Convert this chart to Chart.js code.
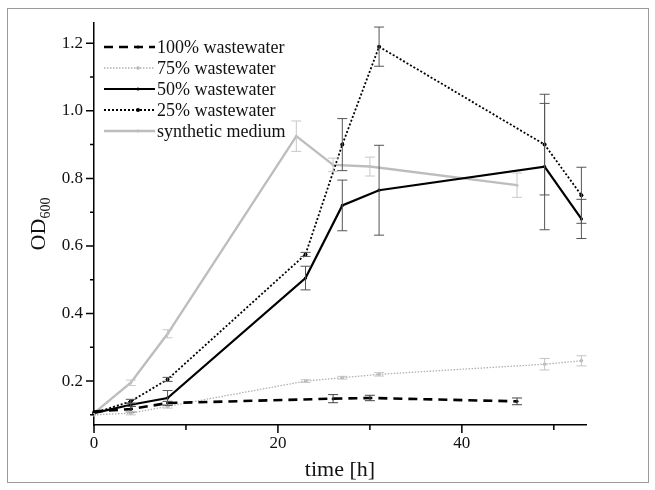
<!DOCTYPE html>
<html lang="en">
<head>
<meta charset="UTF-8">
<title>OD600 growth curves</title>
<style>
  html, body { margin: 0; padding: 0; background: #fff; }
  #wrap { position: relative; width: 655px; height: 490px; }
  #wrap canvas { position: absolute; left: 0; top: 0; }
  #frame { position: absolute; left: 7px; top: 8px; width: 640px; height: 473px; border: 1px solid #9a9a9a; pointer-events: none; }
</style>
</head>
<body>
<div id="wrap">
  <canvas id="chart" width="655" height="490"></canvas>
  <div id="frame"></div>
</div>

<script src="https://cdn.jsdelivr.net/npm/chart.js@4.4.0/dist/chart.umd.min.js"></script>
<script>
// series labels
const seriesNames = ['100% wastewater', '75% wastewater', '50% wastewater', '25% wastewater', 'synthetic medium'];

// sampling times [h]
const time100 = [0, 4, 8, 26, 30, 46];
const time75 = [0, 4, 8, 23, 27, 31, 49, 53];
const time50 = [0, 4, 8, 23, 27, 31, 49, 53];
const time25 = [0, 4, 8, 23, 27, 31, 49, 53];
const timeSyn = [0, 4, 8, 22, 26, 30, 46];

// OD600 means
const od100 = [0.11, 0.117, 0.135, 0.148, 0.15, 0.14];
const od75 = [0.10, 0.105, 0.125, 0.20, 0.21, 0.22, 0.25, 0.26];
const od50 = [0.105, 0.13, 0.15, 0.505, 0.72, 0.765, 0.835, 0.68];
const od25 = [0.105, 0.14, 0.205, 0.575, 0.90, 1.19, 0.90, 0.75];
const odSyn = [0.105, 0.195, 0.34, 0.925, 0.84, 0.835, 0.78];

// standard deviations (error bars)
const sd100 = [0, 0.008, 0.005, 0.012, 0.008, 0.01];
const sd75 = [0, 0.005, 0.005, 0.004, 0.004, 0.005, 0.017, 0.015];
const sd50 = [0, 0.005, 0.022, 0.035, 0.075, 0.133, 0.187, 0.058];
const sd25 = [0, 0.006, 0.006, 0.006, 0.077, 0.058, 0.149, 0.083];
const sdSyn = [0, 0.008, 0.012, 0.045, 0.02, 0.028, 0.036];

// axis ticks
const xTicks = [0, 20, 40];
const yTicks = [0.2, 0.4, 0.6, 0.8, 1.0, 1.2];

const FONT = "'Liberation Serif', 'Times New Roman', serif";

function pts(t, v) {
  return t.map((x, i) => ({ x: x, y: v[i] }));
}

const errorBars = {
  id: 'errorBars',
  afterDatasetsDraw(chart) {
    const ctx = chart.ctx, xs = chart.scales.x, ys = chart.scales.y;
    chart.data.datasets.forEach(ds => {
      if (!ds.err) return;
      ctx.save();
      ctx.strokeStyle = ds.errColor;
      ctx.lineWidth = 1;
      ds.data.forEach((p, j) => {
        const e = ds.err[j];
        if (!e) return;
        const x = xs.getPixelForValue(p.x);
        const y1 = ys.getPixelForValue(p.y + e);
        const y2 = ys.getPixelForValue(p.y - e);
        ctx.beginPath();
        ctx.moveTo(x, y1); ctx.lineTo(x, y2);
        ctx.moveTo(x - 5, y1); ctx.lineTo(x + 5, y1);
        ctx.moveTo(x - 5, y2); ctx.lineTo(x + 5, y2);
        ctx.stroke();
      });
      ctx.restore();
    });
  }
};

// tick marks, axis titles and legend
const decor = {
  id: 'decor',
  afterDraw(chart) {
    const ctx = chart.ctx, xs = chart.scales.x, ys = chart.scales.y;
    const a = chart.chartArea;
    ctx.save();
    ctx.strokeStyle = '#000';
    ctx.lineWidth = 1.5;
    ctx.beginPath();
    xs.ticks.forEach(t => {
      const x = xs.getPixelForValue(t.value);
      const len = xTicks.includes(t.value) ? 8 : 5;
      ctx.moveTo(x, a.bottom); ctx.lineTo(x, a.bottom + len);
    });
    ys.ticks.forEach(t => {
      const y = ys.getPixelForValue(t.value);
      const major = Math.round(t.value * 10) % 2 === 0;
      const len = major ? 8 : 4;
      ctx.moveTo(a.left, y); ctx.lineTo(a.left - len, y);
    });
    ctx.stroke();

    // x title
    ctx.fillStyle = '#111';
    ctx.font = '22px ' + FONT;
    ctx.textAlign = 'center';
    ctx.textBaseline = 'middle';
    ctx.fillText('time [h]', (a.left + a.right) / 2, 470);

    // y title with subscript
    ctx.save();
    ctx.translate(37, (a.top + a.bottom) / 2);
    ctx.rotate(-Math.PI / 2);
    ctx.textAlign = 'left';
    ctx.textBaseline = 'alphabetic';
    ctx.font = '22px ' + FONT;
    const w1 = ctx.measureText('OD').width;
    ctx.font = '14px ' + FONT;
    const w2 = ctx.measureText('600').width;
    const x0 = -(w1 + w2) / 2;
    ctx.font = '22px ' + FONT;
    ctx.fillText('OD', x0, 8);
    ctx.font = '14px ' + FONT;
    ctx.fillText('600', x0 + w1, 13);
    ctx.restore();

    // legend
    ctx.font = '18px ' + FONT;
    ctx.textAlign = 'left';
    ctx.textBaseline = 'middle';
    chart.data.datasets.forEach((ds, i) => {
      const y = 47 + i * 21;
      ctx.save();
      ctx.strokeStyle = ds.borderColor;
      ctx.lineWidth = ds.borderWidth;
      ctx.setLineDash(ds.borderDash || []);
      ctx.beginPath();
      ctx.moveTo(104, y); ctx.lineTo(155, y);
      ctx.stroke();
      ctx.setLineDash([]);
      ctx.fillStyle = ds.pointBackgroundColor;
      ctx.beginPath();
      ctx.arc(138, y, ds.pointRadius, 0, Math.PI * 2);
      ctx.fill();
      ctx.restore();
      ctx.fillStyle = '#111';
      ctx.fillText(ds.label, 157, y + 1);
    });
    ctx.restore();
  }
};

const ctx = document.getElementById('chart').getContext('2d');

new Chart(ctx, {
  type: 'line',
  data: {
    datasets: [{
      label: seriesNames[0],
      data: pts(time100, od100),
      err: sd100,
      errColor: '#444',
      borderColor: '#000',
      borderWidth: 2.6,
      borderDash: [9, 6],
      pointRadius: 1.5,
      pointBackgroundColor: '#000',
      pointBorderWidth: 0
    }, {
      label: seriesNames[1],
      data: pts(time75, od75),
      err: sd75,
      errColor: '#c4c4c4',
      borderColor: '#b0b0b0',
      borderWidth: 1.3,
      borderDash: [1.5, 1.5],
      pointRadius: 1.8,
      pointBackgroundColor: '#b8b8b8',
      pointBorderWidth: 0
    }, {
      label: seriesNames[2],
      data: pts(time50, od50),
      err: sd50,
      errColor: '#555',
      borderColor: '#000',
      borderWidth: 2.2,
      pointRadius: 1.6,
      pointBackgroundColor: '#000',
      pointBorderWidth: 0
    }, {
      label: seriesNames[3],
      data: pts(time25, od25),
      err: sd25,
      errColor: '#555',
      borderColor: '#000',
      borderWidth: 1.8,
      borderDash: [2, 2],
      pointRadius: 2,
      pointBackgroundColor: '#000',
      pointBorderWidth: 0
    }, {
      label: seriesNames[4],
      data: pts(timeSyn, odSyn),
      err: sdSyn,
      errColor: '#c8c8c8',
      borderColor: '#bdbdbd',
      borderWidth: 2.4,
      pointRadius: 1.5,
      pointBackgroundColor: '#bdbdbd',
      pointBorderWidth: 0
    }]
  },
  options: {
    responsive: false,
    animation: false,
    layout: { padding: { left: 0, top: 23, right: 69, bottom: 0 } },
    elements: { line: { tension: 0 } },
    datasets: { line: { clip: false } },
    plugins: {
      legend: { display: false },
      tooltip: { enabled: false }
    },
    scales: {
      x: {
        type: 'linear',
        min: 0,
        max: 53.5,
        grid: { drawOnChartArea: false, drawTicks: false },
        border: { display: true, color: '#000', width: 1.5 },
        ticks: {
          stepSize: 10,
          includeBounds: false,
          padding: 8,
          color: '#111',
          font: { family: FONT, size: 17 },
          callback: v => xTicks.includes(v) ? String(v) : ''
        },
        afterFit: s => { s.height = 65; }
      },
      y: {
        min: 0.07,
        max: 1.26,
        grid: { drawOnChartArea: false, drawTicks: false },
        border: { display: true, color: '#000', width: 1.5 },
        ticks: {
          stepSize: 0.1,
          includeBounds: false,
          padding: 11,
          color: '#111',
          font: { family: FONT, size: 17 },
          callback: v => {
            const r = Math.round(v * 10) / 10;
            return yTicks.some(t => Math.abs(t - r) < 1e-6) ? r.toFixed(1) : '';
          }
        },
        afterFit: s => { s.width = 94; }
      }
    }
  },
  plugins: [errorBars, decor]
});
</script>
</body>
</html>
